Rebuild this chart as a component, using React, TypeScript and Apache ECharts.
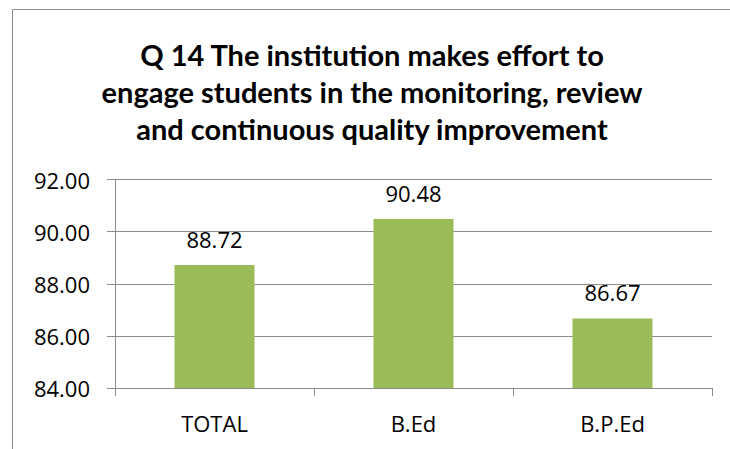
import React, { useEffect, useRef } from "react";
import * as echarts from "echarts";

const categories = ["TOTAL", "B.Ed", "B.P.Ed"];
const values = [88.72, 90.48, 86.67];
const titleLines = [
  "Q 14 The institution makes effort to",
  "engage students in the monitoring, review",
  "and continuous quality improvement",
];
const yMin = 84;
const yMax = 92;
const yStep = 2;

export default function App() {
  const ref = useRef<HTMLDivElement>(null);
  useEffect(() => {
    if (!ref.current) return;
    const chart = echarts.init(ref.current, null, { renderer: "svg" });
    chart.setOption({
      animation: false,
      backgroundColor: "#ffffff",
      title: {
        text: titleLines.join("\n"),
        left: 367,
        top: 31,
        textAlign: "center",
        textStyle: {
          fontFamily: "Lato, 'Open Sans', sans-serif",
          fontWeight: "bold",
          fontSize: 29,
          lineHeight: 37,
          color: "#000000",
        },
      },
      graphic: [
        {
          type: "rect",
          shape: { x: 12.5, y: 9.5, width: 800, height: 500 },
          style: { fill: "none", stroke: "#8a8a8a", lineWidth: 1 },
          silent: true,
        },
      ],
      grid: { left: 115, right: 18, top: 179.5, bottom: 61, containLabel: false },
      xAxis: {
        type: "category",
        data: categories,
        axisLine: { show: true, lineStyle: { color: "#8c8c8c", width: 1 } },
        axisTick: { show: true, length: 8, alignWithLabel: false, lineStyle: { color: "#8c8c8c" } },
        axisLabel: {
          margin: 24,
          fontFamily: "'Open Sans', sans-serif",
          fontSize: 22,
          color: "#000000",
        },
      },
      yAxis: {
        type: "value",
        min: yMin,
        max: yMax,
        interval: yStep,
        axisLine: { show: true, lineStyle: { color: "#8c8c8c", width: 1 } },
        axisTick: { show: true, length: 8, lineStyle: { color: "#8c8c8c" } },
        splitLine: { show: true, lineStyle: { color: "#8c8c8c", width: 1 } },
        axisLabel: {
          margin: 25,
          fontFamily: "'Open Sans', sans-serif",
          fontSize: 22,
          color: "#000000",
          formatter: (v: number) => v.toFixed(2),
        },
      },
      series: [
        {
          type: "bar",
          data: values,
          barWidth: 80,
          itemStyle: { color: "#9BBB59" },
          label: {
            show: true,
            position: "top",
            distance: 15,
            fontFamily: "'Open Sans', sans-serif",
            fontSize: 22,
            color: "#000000",
            formatter: (p: any) => Number(p.value).toFixed(2),
          },
        },
      ],
    });
    return () => chart.dispose();
  }, []);
  return (
    <div
      ref={ref}
      style={{ position: "fixed", left: 0, top: 0, width: 730, height: 449 }}
    />
  );
}
